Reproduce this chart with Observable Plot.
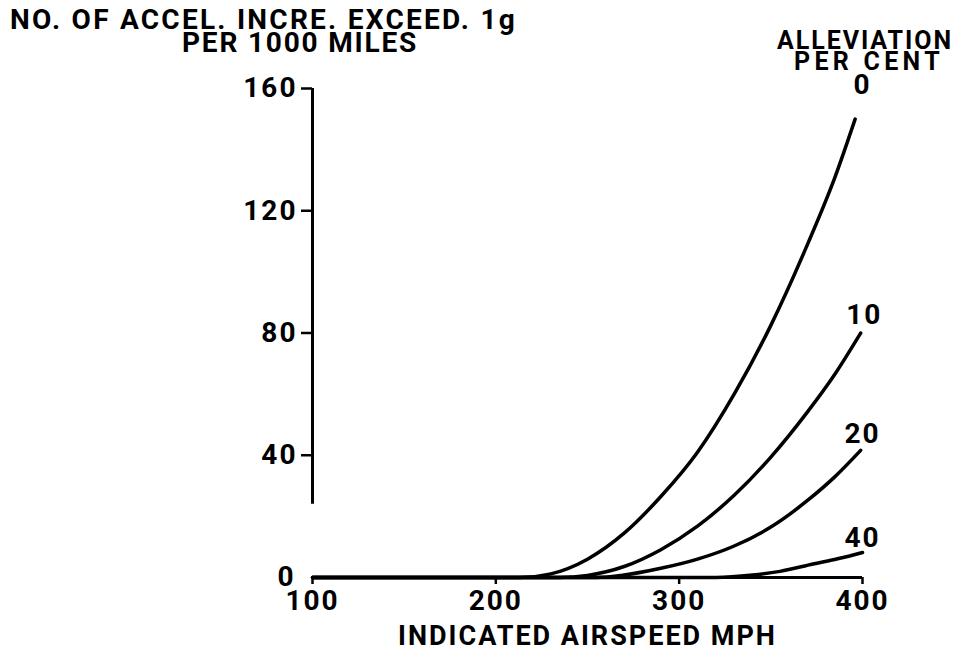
<!DOCTYPE html>
<html><head><meta charset="utf-8">
<script src="https://cdn.jsdelivr.net/npm/d3@7"></script>
<script src="https://cdn.jsdelivr.net/npm/@observablehq/plot@0.6"></script>
<style>
html,body{margin:0;padding:0;background:#fff;}
#page{position:relative;width:956px;height:653px;font-family:Roboto,"DejaVu Sans",sans-serif;font-weight:700;color:#000;}
#head{position:relative;height:66px;}
.t{position:absolute;white-space:nowrap;line-height:0.8;}
#chart svg text{letter-spacing:2px;}
</style></head><body>
<div id="page"><div id="head"></div><div id="chart"></div></div>
<script>
// ---- text ----
const titleLines = ["NO. OF ACCEL. INCRE. EXCEED. 1g", "PER 1000 MILES"];
const legendTitle = ["ALLEVIATION", "PER CENT"];
const xLabel = "INDICATED AIRSPEED MPH";

// ---- series (alleviation per cent) ----
const alleviation = ["0", "10", "20", "40"];
const speed0 = [100, 213, 230, 250, 270, 290, 310, 330, 350, 370, 385, 396];
const count0 = [0, 0, 1.2, 6, 14.5, 26.5, 41, 60, 82.5, 109, 131, 150];
const speed10 = [100, 235, 250, 270, 290, 310, 330, 350, 370, 385, 399];
const count10 = [0, 0, 0.7, 3.6, 9.1, 16.8, 26.9, 39.4, 54.2, 66.6, 80];
const speed20 = [100, 255, 270, 290, 310, 330, 350, 370, 385, 399];
const count20 = [0, 0, 0.8, 3.0, 6.0, 10.3, 16.5, 25.2, 33.0, 41.6];
const speed40 = [100, 320, 340, 355, 373, 387, 400];
const count40 = [0, 0, 0.8, 2.0, 4.4, 6.2, 8.2];

// ---- curve label anchors (data units) ----
const labelSpeed = [400, 401, 400, 400];
const labelCount = [161, 86, 47, 13];

// ---- axes ----
const xTicks = [100, 200, 300, 400];
const yTicks = [0, 40, 80, 120, 160];
const yAxisSpan = [24, 160];

const speeds = [speed0, speed10, speed20, speed40];
const counts = [count0, count10, count20, count40];
const rows = alleviation.flatMap((a, k) =>
  speeds[k].map((s, i) => ({alleviation: a, speed: s, count: counts[k][i]})));
const labelRows = alleviation.map((a, k) => ({alleviation: a, speed: labelSpeed[k], count: labelCount[k]}));

// ---- header (title and legend heading) ----
const head = document.getElementById("head");
function addText(txt, opts) {
  const el = document.createElement("div");
  el.className = "t";
  el.textContent = txt;
  el.style.fontSize = opts.size + "px";
  el.style.top = opts.top + "px";
  head.appendChild(el);
  const w = el.getBoundingClientRect().width;
  el.style.letterSpacing = ((opts.width - w) / txt.length) + "px";
  const left = opts.center != null ? opts.center - opts.width / 2 : opts.left;
  el.style.left = left + "px";
}
addText(titleLines[0], {size: 28, top: 9, left: 10, width: 507});
addText(titleLines[1], {size: 28, top: 32, center: 300, width: 236});
addText(legendTitle[0], {size: 25, top: 31, center: 865, width: 176});
addText(legendTitle[1], {size: 25, top: 52, center: 869, width: 150});

// ---- chart ----
const chart = Plot.plot({
  width: 956, height: 587,
  marginTop: 22, marginBottom: 76, marginLeft: 312, marginRight: 94,
  x: {domain: [100, 400]},
  y: {domain: [0, 160]},
  style: {fontFamily: "Roboto, 'DejaVu Sans', sans-serif", fontSize: "28px", fontWeight: 700, color: "#000", background: "#fff", overflow: "visible"},
  marks: [
    Plot.ruleX([xTicks[0]], {y1: yAxisSpan[0], y2: yAxisSpan[1], strokeWidth: 3}),
    Plot.ruleY([0], {x1: xTicks[0], x2: xTicks[xTicks.length - 1], strokeWidth: 3}),
    Plot.axisX({ticks: xTicks, tickSize: 7, tickPadding: 6, strokeWidth: 2.5, label: null, tickFormat: d => String(d)}),
    Plot.axisY({ticks: yTicks.filter(d => d > 0), tickSize: 11, tickPadding: 4, strokeWidth: 2.5, label: null, tickFormat: d => String(d)}),
    Plot.axisY({ticks: [0], tickSize: 0, tickPadding: 17, label: null, tickFormat: d => String(d)}),
    Plot.line(rows, {x: "speed", y: "count", z: "alleviation", curve: "monotone-x", stroke: "#000", strokeWidth: 3.5, strokeLinecap: "round"}),
    Plot.text(labelRows, {x: "speed", y: "count", text: "alleviation", fontSize: 28, fill: "#000"}),
    Plot.text([xLabel], {frameAnchor: "bottom", lineAnchor: "top", dy: 48, fontSize: 27, fill: "#000"})
  ]
});
document.getElementById("chart").appendChild(chart);
</script>
</body></html>
